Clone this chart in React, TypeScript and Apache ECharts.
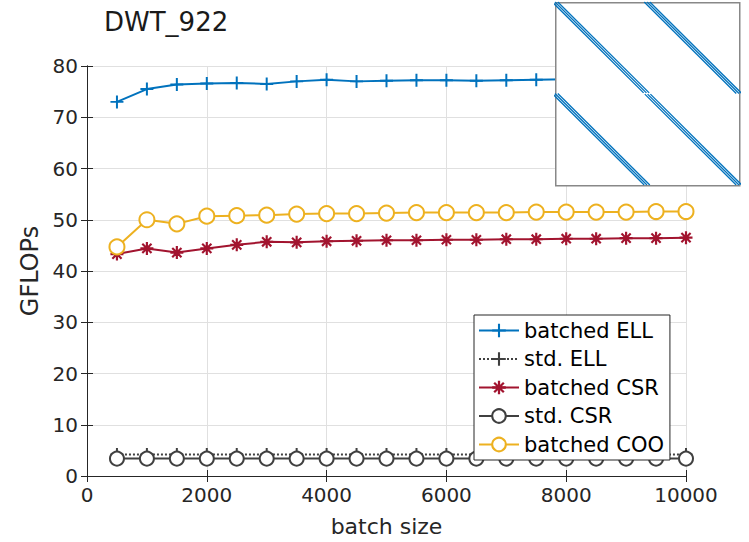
import React, { useEffect, useRef } from "react";
import * as echarts from "echarts";

const batchSizes = [500, 1000, 1500, 2000, 2500, 3000, 3500, 4000, 4500, 5000, 5500, 6000, 6500, 7000, 7500, 8000, 8500, 9000, 9500, 10000];
const batchedELL = [73.0, 75.5, 76.4, 76.6, 76.7, 76.5, 77.0, 77.3, 77.0, 77.1, 77.2, 77.2, 77.1, 77.2, 77.3, 77.4, 77.4, 77.5, 77.5, 77.5];
const stdELL = [4.2, 4.2, 4.2, 4.2, 4.2, 4.2, 4.2, 4.2, 4.2, 4.2, 4.2, 4.2, 4.2, 4.2, 4.2, 4.2, 4.2, 4.2, 4.2, 4.2];
const batchedCSR = [43.3, 44.4, 43.6, 44.4, 45.1, 45.7, 45.6, 45.8, 45.9, 46.0, 46.0, 46.1, 46.1, 46.2, 46.2, 46.3, 46.3, 46.4, 46.4, 46.5];
const stdCSR = [3.4, 3.4, 3.4, 3.4, 3.4, 3.4, 3.4, 3.4, 3.4, 3.4, 3.4, 3.4, 3.4, 3.4, 3.4, 3.4, 3.4, 3.4, 3.4, 3.4];
const batchedCOO = [44.7, 50.0, 49.2, 50.7, 50.8, 50.9, 51.1, 51.2, 51.2, 51.3, 51.4, 51.4, 51.4, 51.4, 51.5, 51.5, 51.5, 51.5, 51.6, 51.6];

const seriesNames = ["batched ELL", "std. ELL", "batched CSR", "std. CSR", "batched COO"];
const yTicks = { min: 0, max: 80, interval: 10 };
const xTicks = { min: 0, max: 10000, interval: 2000 };

// sparsity pattern of DWT_922 (inset): band segments [col, row]
const matrixSize = 922;
const insetBands = [
  [[0, 0], [458, 458]],
  [[464, 464], [922, 922]],
  [[461, 0], [922, 461]],
  [[0, 461], [461, 922]],
];
const bandOffsets = [-14, 0, 14];

const BLUE = "#0072BD";
const RED = "#A2142F";
const YELLOW = "#EDB120";
const GRAY = "#404040";
const FONT = "DejaVu Sans";
const TXT = "#262626";

const plusPath = "path://M-1,-6.5H1V-1H6.5V1H1V6.5H-1V1H-6.5V-1H-1Z";
const starPath =
  "path://M-6,-1H6V1H-6Z M-1,-6H1V6H-1Z M-3.54,-4.95L4.95,3.54L3.54,4.95L-4.95,-3.54Z M-4.95,3.54L3.54,-4.95L4.95,-3.54L-3.54,4.95Z";

export default function App() {
  const ref = useRef<HTMLDivElement>(null);
  useEffect(() => {
    if (!ref.current) return;
    const chart = echarts.init(ref.current, undefined, { renderer: "svg" });
    const pts = (arr: number[]) => batchSizes.map((x, i) => [x, arr[i]]);

    const insetSeries: any[] = [];
    insetBands.forEach((seg) => {
      bandOffsets.forEach((off) => {
        insetSeries.push({
          type: "line",
          xAxisIndex: 2,
          yAxisIndex: 2,
          data: [
            [seg[0][0] + off, seg[0][1]],
            [seg[1][0] + off, seg[1][1]],
          ],
          symbol: "none",
          lineStyle: { color: BLUE, width: 1.3 },
          z: 12,
          silent: true,
          clip: true,
        });
      });
    });

    const axisLineStyle = { color: TXT, width: 1 };
    chart.setOption({
      animation: false,
      backgroundColor: "#fff",
      title: {
        text: "DWT_922",
        left: 104,
        top: 9,
        padding: 0,
        textStyle: { fontFamily: FONT, fontSize: 26, fontWeight: "normal", color: "#1a1a1a" },
      },
      grid: [
        { left: 87, right: 63, top: 66, bottom: 66 },
        { left: 555, top: 2, width: 184, height: 183 },
      ],
      xAxis: [
        {
          type: "value",
          gridIndex: 0,
          ...xTicks,
          name: "batch size",
          nameLocation: "middle",
          nameGap: 39,
          nameTextStyle: { fontFamily: FONT, fontSize: 22, color: TXT },
          axisLine: { show: true, lineStyle: axisLineStyle },
          axisTick: { show: true, inside: true, length: 6, lineStyle: axisLineStyle },
          axisLabel: { fontFamily: FONT, fontSize: 20, color: TXT, margin: 9, formatter: (v: number) => String(v) },
          splitLine: { show: true, lineStyle: { color: "#e0e0e0", width: 1 } },
        },
        {
          type: "value",
          gridIndex: 0,
          position: "top",
          ...xTicks,
          axisLine: { show: true, lineStyle: axisLineStyle },
          axisTick: { show: true, inside: true, length: 6, lineStyle: axisLineStyle },
          axisLabel: { show: false },
          splitLine: { show: false },
        },
        {
          type: "value",
          gridIndex: 1,
          min: 0,
          max: matrixSize,
          show: false,
        },
      ],
      yAxis: [
        {
          type: "value",
          gridIndex: 0,
          ...yTicks,
          name: "GFLOPs",
          nameLocation: "middle",
          nameGap: 41,
          nameRotate: 90,
          nameTextStyle: { fontFamily: FONT, fontSize: 24, color: TXT },
          axisLine: { show: true, lineStyle: axisLineStyle },
          axisTick: { show: true, inside: true, length: 6, lineStyle: axisLineStyle },
          axisLabel: { fontFamily: FONT, fontSize: 20, color: TXT, margin: 9 },
          splitLine: { show: true, lineStyle: { color: "#e0e0e0", width: 1 } },
        },
        {
          type: "value",
          gridIndex: 0,
          position: "right",
          ...yTicks,
          axisLine: { show: true, lineStyle: axisLineStyle },
          axisTick: { show: true, inside: true, length: 6, lineStyle: axisLineStyle },
          axisLabel: { show: false },
          splitLine: { show: false },
        },
        {
          type: "value",
          gridIndex: 1,
          min: 0,
          max: matrixSize,
          inverse: true,
          show: false,
        },
      ],
      legend: {
        data: seriesNames,
        orient: "vertical",
        left: 474,
        top: 315,
        padding: [5, 6, 5, 4],
        itemGap: 7.5,
        itemWidth: 40,
        itemHeight: 17,
        backgroundColor: "#fff",
        borderColor: TXT,
        borderWidth: 1,
        borderRadius: 0,
        textStyle: { fontFamily: FONT, fontSize: 21, color: "#000", lineHeight: 21 },
        z: 20,
      },
      graphic: [
        {
          type: "rect",
          left: 555,
          top: 2,
          shape: { width: 184, height: 183 },
          style: { fill: "#fff", stroke: "#888", lineWidth: 1.5 },
          z: 10,
          silent: true,
        },
      ],
      series: [
        {
          name: seriesNames[0],
          type: "line",
          data: pts(batchedELL),
          symbol: plusPath,
          symbolSize: 13,
          lineStyle: { color: BLUE, width: 2 },
          itemStyle: { color: BLUE },
          z: 3,
        },
        {
          name: seriesNames[1],
          type: "line",
          data: pts(stdELL),
          symbol: plusPath,
          symbolSize: 13,
          lineStyle: { color: GRAY, width: 2, type: "dotted" },
          itemStyle: { color: GRAY },
          z: 3,
        },
        {
          name: seriesNames[2],
          type: "line",
          data: pts(batchedCSR),
          symbol: starPath,
          symbolSize: 13,
          lineStyle: { color: RED, width: 2 },
          itemStyle: { color: RED },
          z: 3,
        },
        {
          name: seriesNames[3],
          type: "line",
          data: pts(stdCSR),
          symbol: "emptyCircle",
          symbolSize: 14,
          lineStyle: { color: GRAY, width: 2 },
          itemStyle: { color: GRAY, borderWidth: 2.3 },
          z: 3,
        },
        {
          name: seriesNames[4],
          type: "line",
          data: pts(batchedCOO),
          symbol: "emptyCircle",
          symbolSize: 15,
          lineStyle: { color: YELLOW, width: 2 },
          itemStyle: { color: YELLOW, borderWidth: 2.3 },
          z: 3,
        },
        ...insetSeries,
      ],
    });
    return () => chart.dispose();
  }, []);
  return (
    <div
      ref={ref}
      style={{ position: "fixed", left: 0, top: 0, width: 749, height: 542, background: "#fff" }}
    />
  );
}
